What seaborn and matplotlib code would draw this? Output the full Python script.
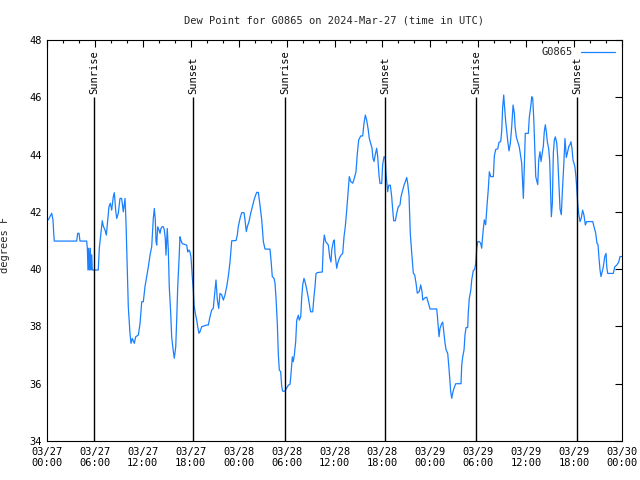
"""
Dew point chart for station G0865, 2024-Mar-27 .. 2024-Mar-30 (UTC)
"""

import pandas as pd
import matplotlib
matplotlib.use("Agg")
import matplotlib.pyplot as plt
import matplotlib.dates as mdates
import seaborn as sns

# hours after 2024-03-27 00:00 UTC
hours = [
    0.00, 0.16, 0.59, 0.75, 0.84, 0.91, 3.72, 3.84, 4.01, 4.13, 4.97, 5.05, 5.13,
    5.22, 5.30, 5.42, 5.51, 5.60, 5.67, 6.42, 6.55, 6.72, 6.92, 7.05, 7.26, 7.43,
    7.60, 7.76, 7.93, 8.10, 8.30, 8.43, 8.60, 8.73, 8.93, 9.14, 9.35, 9.55, 9.77,
    9.89, 10.06, 10.18, 10.39, 10.52, 10.68, 10.93, 11.11, 11.44, 11.65, 11.86,
    12.06, 12.27, 12.48, 12.69, 12.90, 13.11, 13.31, 13.44, 13.56, 13.65, 13.74,
    13.86, 14.02, 14.15, 14.27, 14.40, 14.56, 14.69, 14.81, 14.90, 15.06, 15.19,
    15.31, 15.49, 15.61, 15.82, 15.94, 16.12, 16.24, 16.37, 16.53, 16.65, 16.78,
    16.94, 17.49, 17.62, 17.78, 17.91, 18.03, 18.19, 18.32, 18.41, 18.57, 18.75,
    18.87, 19.03, 19.16, 19.37, 20.00, 20.20, 20.41, 20.62, 20.82, 21.04, 21.16,
    21.33, 21.50, 21.66, 21.88, 22.08, 22.29, 22.50, 22.70, 22.92, 23.13, 23.67,
    23.83, 23.95, 24.17, 24.38, 24.67, 24.79, 24.96, 25.08, 25.29, 25.51, 25.71,
    25.92, 26.13, 26.26, 26.46, 26.59, 26.76, 26.89, 27.09, 27.30, 27.92, 28.05,
    28.21, 28.43, 28.55, 28.68, 28.84, 28.96, 29.09, 29.26, 29.39, 29.51, 29.80,
    30.02, 30.22, 30.43, 30.55, 30.72, 30.84, 30.97, 31.14, 31.27, 31.47, 31.59,
    31.77, 31.89, 32.02, 32.18, 32.31, 32.52, 32.72, 32.93, 33.02, 33.27, 33.43,
    33.56, 33.68, 33.85, 34.47, 34.60, 34.72, 34.90, 35.06, 35.23, 35.40, 35.56,
    35.65, 35.85, 35.98, 36.06, 36.28, 36.40, 36.60, 36.82, 37.03, 37.19, 37.35,
    37.53, 37.73, 37.85, 38.03, 38.28, 38.48, 38.69, 38.86, 39.03, 39.28, 39.53,
    39.69, 39.86, 40.03, 40.20, 40.36, 40.53, 40.70, 40.82, 40.95, 41.11, 41.28,
    41.41, 41.57, 41.70, 41.91, 42.03, 42.20, 42.36, 42.45, 42.54, 42.66, 42.79,
    42.99, 43.16, 43.29, 43.41, 43.62, 43.79, 43.99, 44.20, 44.33, 44.54, 44.70,
    44.87, 45.04, 45.17, 45.33, 45.49, 45.67, 45.87, 46.04, 46.21, 46.37, 46.62,
    46.79, 46.96, 47.05, 47.33, 47.55, 47.75, 47.96, 48.80, 48.92, 49.09, 49.21,
    49.42, 49.55, 49.71, 49.84, 49.96, 50.18, 50.25, 50.37, 50.55, 50.68, 50.80,
    50.96, 51.18, 51.84, 51.93, 52.05, 52.22, 52.34, 52.47, 52.68, 52.75, 52.88,
    53.06, 53.18, 53.38, 53.56, 53.68, 53.81, 53.93, 54.13, 54.31, 54.43, 54.51,
    54.64, 54.76, 54.93, 55.10, 55.26, 55.39, 55.56, 55.69, 55.89, 56.02, 56.19,
    56.44, 56.60, 56.81, 56.94, 57.06, 57.19, 57.26, 57.44, 57.56, 57.69, 57.85,
    58.02, 58.19, 58.36, 58.52, 58.61, 58.77, 58.94, 59.11, 59.23, 59.44, 59.57,
    59.65, 59.77, 59.89, 60.27, 60.40, 60.57, 60.70, 60.82, 60.95, 61.07, 61.20,
    61.32, 61.45, 61.57, 61.73, 61.86, 62.02, 62.15, 62.27, 62.40, 62.52, 62.65,
    62.82, 62.95, 63.07, 63.15, 63.28, 63.40, 63.53, 63.65, 63.83, 63.95, 64.11,
    64.24, 64.40, 64.53, 64.70, 64.86, 65.03, 65.20, 65.36, 65.49, 65.61, 65.74,
    65.87, 65.99, 66.11, 66.24, 66.36, 66.45, 66.57, 66.74, 66.90, 67.07, 67.24,
    67.41, 67.58, 68.33, 68.50, 68.71, 68.87, 69.00, 69.12, 69.25, 69.37, 69.50,
    69.66, 69.84, 70.00, 70.09, 70.21, 70.91, 71.09, 71.34, 71.59, 71.75, 71.95,
]

# dew point, degrees F
dewpoint = [
    41.72, 41.72, 41.95, 41.72, 41.25, 40.98, 40.98, 41.25, 41.25, 40.98, 40.98, 40.73, 39.97,
    40.73, 39.97, 40.73, 39.97, 40.50, 39.97, 39.97, 40.73, 41.16, 41.69, 41.50, 41.37, 41.19,
    41.69, 42.18, 42.30, 42.06, 42.53, 42.67, 42.06, 41.77, 41.95, 42.47, 42.47, 42.00, 42.47,
    41.66, 39.85, 38.69, 37.76, 37.41, 37.58, 37.41, 37.64, 37.70, 38.10, 38.86,
    38.86, 39.39, 39.74, 40.08, 40.49, 40.78, 41.77, 42.12, 41.72, 40.96, 40.84,
    41.48, 41.37, 41.25, 41.42, 41.48, 41.48, 41.37, 41.07, 40.49, 41.42, 40.67,
    39.39, 38.46, 37.64, 37.12, 36.89, 37.29, 38.22, 39.39, 40.32, 41.13, 41.00,
    40.89, 40.84, 40.60, 40.67, 40.60, 40.42, 39.74, 39.27, 38.75, 38.46, 38.22,
    37.99, 37.76, 37.82, 37.99, 38.05, 38.05, 38.34, 38.57, 38.63, 39.27, 39.62,
    38.92, 38.63, 39.15, 39.10, 38.92, 39.10, 39.39, 39.74, 40.26, 40.99, 41.00,
    41.19, 41.48, 41.77, 41.97, 41.97, 41.72, 41.31, 41.48, 41.66, 41.95, 42.18,
    42.41, 42.59, 42.68, 42.68, 42.41, 42.00, 41.72, 40.96, 40.70, 40.70, 40.32,
    39.74, 39.68, 39.51, 38.98, 38.10, 37.06, 36.48, 36.42, 35.90, 35.74, 35.74,
    35.85, 35.95, 35.98, 36.33, 36.94, 36.77, 37.00, 37.47, 38.22, 38.39, 38.22,
    38.34, 38.98, 39.45, 39.68, 39.56, 39.30, 39.00, 38.63, 38.51, 38.51, 39.04,
    39.39, 39.84, 39.88, 39.90, 40.84, 41.19, 40.96, 40.90, 40.84, 40.42, 40.25,
    40.67, 40.96, 41.02, 40.56, 40.03, 40.20, 40.38, 40.49, 40.55, 41.13, 41.48,
    42.06, 42.82, 43.23, 43.06, 43.00, 43.17, 43.40, 44.04, 44.51, 44.65, 44.65,
    45.09, 45.38, 45.20, 44.91, 44.56, 44.39, 44.22, 43.87, 43.76, 44.00, 44.22,
    43.93, 43.28, 42.99, 42.99, 43.64, 43.93, 43.87, 43.34, 43.05, 42.70, 42.93,
    42.93, 42.53, 42.06, 41.69, 41.69, 41.95, 42.18, 42.24, 42.53, 42.76, 42.93,
    43.05, 43.20, 42.99, 42.58, 41.25, 40.56, 39.86, 39.80, 39.51, 39.16, 39.22,
    39.45, 39.22, 38.92, 39.00, 39.02, 38.82, 38.61, 38.61, 38.24, 37.64, 37.93,
    38.10, 38.15, 37.75, 37.42, 37.20, 37.05, 36.82, 36.41, 35.72, 35.49, 35.67,
    35.84, 36.00, 36.00, 36.64, 36.93, 37.18, 37.70, 37.96, 37.96, 38.47, 38.98,
    39.25, 39.62, 39.95, 40.00, 40.20, 40.73, 40.96, 40.96, 40.90, 40.73, 41.02,
    41.42, 41.72, 41.55, 42.23, 42.80, 43.40, 43.23, 43.23, 43.23, 43.96, 44.18,
    44.20, 44.43, 44.45, 44.83, 45.67, 46.08, 45.78, 45.15, 44.83, 44.48, 44.13,
    44.40, 44.97, 45.73, 45.44, 44.97, 44.62, 44.45, 44.30, 44.10, 43.70, 42.90,
    42.47, 43.60, 44.74, 44.74, 45.32, 45.67, 46.02, 45.96, 45.26, 44.30, 43.23,
    43.10, 42.95, 43.80, 44.10, 43.76, 44.05, 44.30, 44.80, 45.04, 44.80, 44.45,
    44.20, 43.76, 42.53, 41.83, 42.30, 44.04, 44.50, 44.62, 44.40, 43.90, 42.90,
    42.10, 41.90, 42.70, 43.60, 44.56, 43.90, 44.10, 44.30, 44.35, 44.45, 44.20,
    43.80, 43.70, 43.56, 43.20, 42.72, 42.30, 41.95, 41.66, 41.78, 42.06, 41.88,
    41.54, 41.66, 41.66, 41.48, 41.25, 40.90, 40.85, 40.38, 39.97, 39.74, 39.90,
    40.08, 40.44, 40.55, 40.08, 39.85, 39.85, 40.08, 40.14, 40.25, 40.44, 40.44,
]

# sun events, hours after 2024-03-27 00:00 UTC
sun_hours = [5.92, 18.32, 29.84, 42.36, 53.72, 66.41]
sun_labels = ["Sunrise", "Sunset", "Sunrise", "Sunset", "Sunrise", "Sunset"]

station = "G0865"
start = pd.Timestamp("2024-03-27 00:00")


def main():
    sns.set_theme(style="white")
    plt.rcParams["font.family"] = ["DejaVu Sans Mono"]
    plt.rcParams["font.size"] = 7

    df = pd.DataFrame({
        "time": start + pd.to_timedelta(hours, unit="h"),
        "dewpoint": dewpoint,
    })

    fig = plt.figure(figsize=(6.4, 4.8), dpi=100)
    ax = fig.add_axes([47 / 640, 39 / 480, 575 / 640, 401 / 480])

    sns.lineplot(data=df, x="time", y="dewpoint", ax=ax, color="#1a80ff",
                 linewidth=0.9, label=station)

    # sunrise / sunset markers
    sun_times = start + pd.to_timedelta(sun_hours, unit="h")
    ax.vlines(sun_times, 34, 46, color="black", linewidth=1.0)
    for t, lab in zip(sun_times, sun_labels):
        ax.text(t, 46.1, lab, rotation=90, ha="center", va="bottom",
                fontsize=7.5, color="black")

    ax.set_xlim(start, start + pd.Timedelta(hours=72))
    ax.set_ylim(34, 48)
    ax.set_yticks(range(34, 49, 2))
    ax.xaxis.set_major_locator(mdates.HourLocator(byhour=[0, 6, 12, 18]))
    ax.xaxis.set_minor_locator(mdates.HourLocator(interval=2))
    ax.xaxis.set_major_formatter(mdates.DateFormatter("%m/%d\n%H:%M"))

    ax.tick_params(which="both", direction="in", top=True, right=True,
                   colors="black", labelsize=7.5, pad=4)
    ax.tick_params(which="major", length=5, width=0.8)
    ax.tick_params(which="minor", length=2.5, width=0.8)
    for s in ax.spines.values():
        s.set_color("black")
        s.set_linewidth(0.8)

    ax.set_xlabel("")
    ax.set_ylabel("degrees F", fontsize=7.5)
    ax.yaxis.set_label_coords(-0.064, 0.49)
    ax.set_title("Dew Point for G0865 on 2024-Mar-27 (time in UTC)",
                 fontsize=7.5, pad=12)

    ax.legend(loc="upper right", frameon=False, markerfirst=False,
              fontsize=7.5, handlelength=3.2, borderaxespad=0.3)

    fig.savefig("out.png", dpi=100)
    plt.close(fig)


if __name__ == "__main__":
    main()
